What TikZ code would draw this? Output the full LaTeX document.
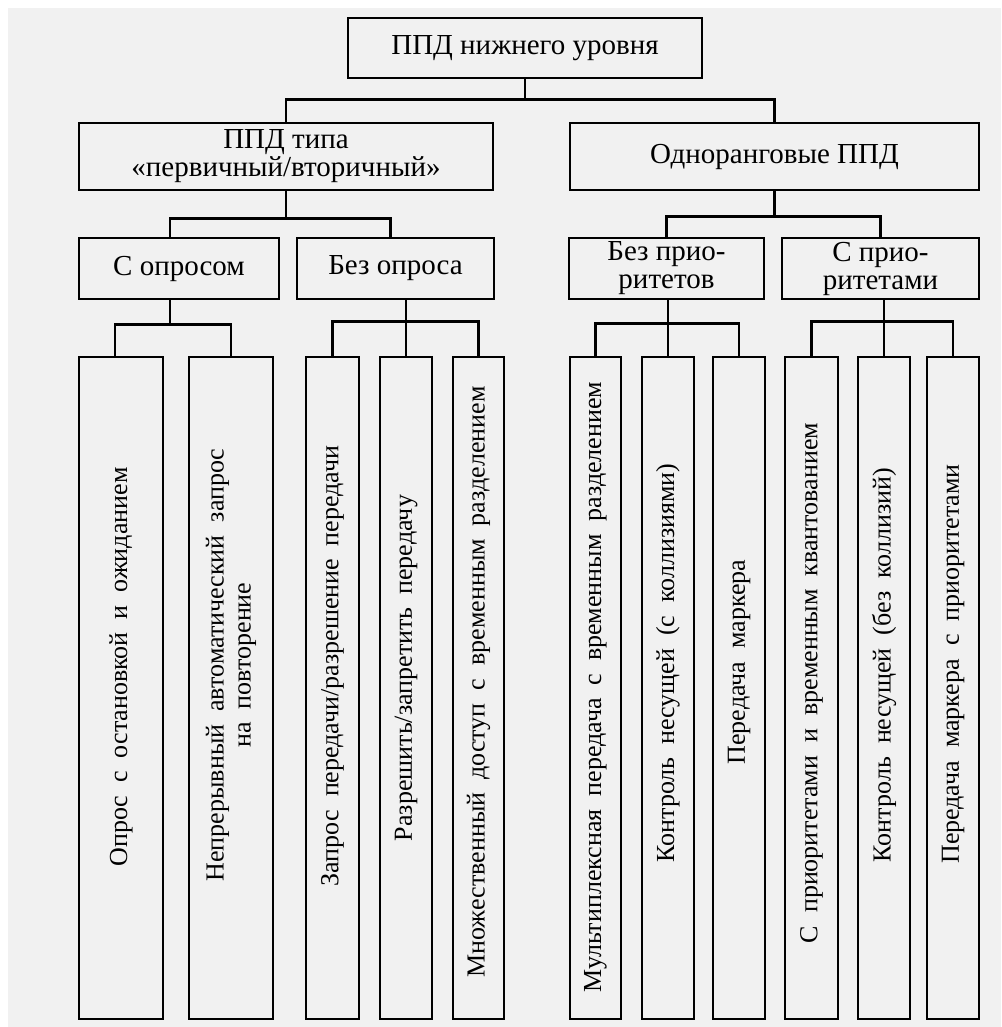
\documentclass[tikz,border=0pt]{standalone}
\usepackage{fontspec}
\setmainfont{Liberation Serif}
\begin{document}
\begin{tikzpicture}[x=1pt,y=-1pt,
  box/.style={draw,line width=2.8pt,inner sep=0pt,align=center,
    font=\fontsize{29}{28}\selectfont},
  col/.style={draw,line width=2.8pt,inner sep=0pt,minimum height=662pt},
  vtext/.style={rotate=90,align=center,inner sep=0pt,
    font=\fontsize{26}{27}\selectfont,
    execute at begin node={\spaceskip=.5em plus .1em\relax}},
  conn/.style={line width=2.8pt}]
\useasboundingbox (0,0) rectangle (1001,1027);
\fill[gray!11] (8,8) rectangle (1001,1027);

\node[box,minimum width=354pt,minimum height=60pt] (top) at (525,48) {ППД нижнего уровня};

\node[box,minimum width=414pt,minimum height=67pt] (prim) at (286,156.5) {ППД типа\\«первичный/вторичный»};
\node[box,minimum width=409pt,minimum height=67pt] (peer) at (774.5,156.5) {Одноранговые ППД};

\node[box,minimum width=200pt,minimum height=61pt] (sopr) at (179,268.5) {С опросом};
\node[box,minimum width=197pt,minimum height=61pt] (bezopr) at (395.5,268.5) {Без опроса};
\node[box,minimum width=195pt,minimum height=61pt] (bezpri) at (666.5,268.5) {Без прио-\\ритетов};
\node[box,minimum width=197pt,minimum height=61pt] (spri) at (880.5,268.5) {С прио-\\ритетами};

\node[col,minimum width=84pt] (b1) at (121,688) {};
\node[col,minimum width=84pt] (b2) at (231,688) {};
\node[col,minimum width=53pt] (b3) at (332.5,688) {};
\node[col,minimum width=52pt] (b4) at (406,688) {};
\node[col,minimum width=51pt] (b5) at (478.5,688) {};
\node[col,minimum width=51pt] (b6) at (595.5,688) {};
\node[col,minimum width=52pt] (b7) at (668,688) {};
\node[col,minimum width=52pt] (b8) at (739,688) {};
\node[col,minimum width=53pt] (b9) at (811.5,688) {};
\node[col,minimum width=52pt] (b10) at (884,688) {};
\node[col,minimum width=52pt] (b11) at (953,688) {};

\node[vtext] (t1) at (121,667) {Опрос с остановкой и ожиданием};
\node[vtext] (t2) at (231,665) {Непрерывный автоматический запрос\\на повторение};
\node[vtext] (t3) at (332.5,666) {Запрос передачи/разрешение передачи};
\node[vtext] (t4) at (406,668) {Разрешить/запретить передачу};
\node[vtext] (t5) at (478.5,682) {Множественный доступ с временным разделением};
\node[vtext] (t6) at (595.5,687) {Мультиплексная передача с временным разделением};
\node[vtext] (t7) at (668,663) {Контроль несущей (с коллизиями)};
\node[vtext] (t8) at (739,662) {Передача маркера};
\node[vtext] (t9) at (811.5,683) {С приоритетами и временным квантованием};
\node[vtext] (t10) at (884,665) {Контроль несущей (без коллизий)};
\node[vtext] (t11) at (953,664) {Передача маркера с приоритетами};

\draw[conn] (top.south) -- ++(0,20) -| (prim.north);
\draw[conn] (top.south) -- ++(0,20) -| (peer.north);

\draw[conn] (prim.south) -- ++(0,27) -| ([xshift=-9pt]sopr.north);
\draw[conn] (prim.south) -- ++(0,27) -| ([xshift=-5pt]bezopr.north);
\draw[conn] (peer.south) -- ++(0,25) -| (bezpri.north);
\draw[conn] (peer.south) -- ++(0,25) -| (spri.north);

\draw[conn] ([xshift=-9pt]sopr.south) -- ++(0,24) -| ([xshift=-6pt]b1.north);
\draw[conn] ([xshift=-9pt]sopr.south) -- ++(0,24) -| (b2.north);
\draw[conn] (b3.north) -- ++(0,-34) -| (b5.north);
\draw[conn] (b4.north) -- (b4.north |- bezopr.south);
\draw[conn] (b6.north) -- ++(0,-32) -| (b8.north);
\draw[conn] (b7.north) -- (b7.north |- bezpri.south);
\draw[conn] (b9.north) -- ++(0,-34) -| (b11.north);
\draw[conn] (b10.north) -- (b10.north |- spri.south);
\end{tikzpicture}
\end{document}
